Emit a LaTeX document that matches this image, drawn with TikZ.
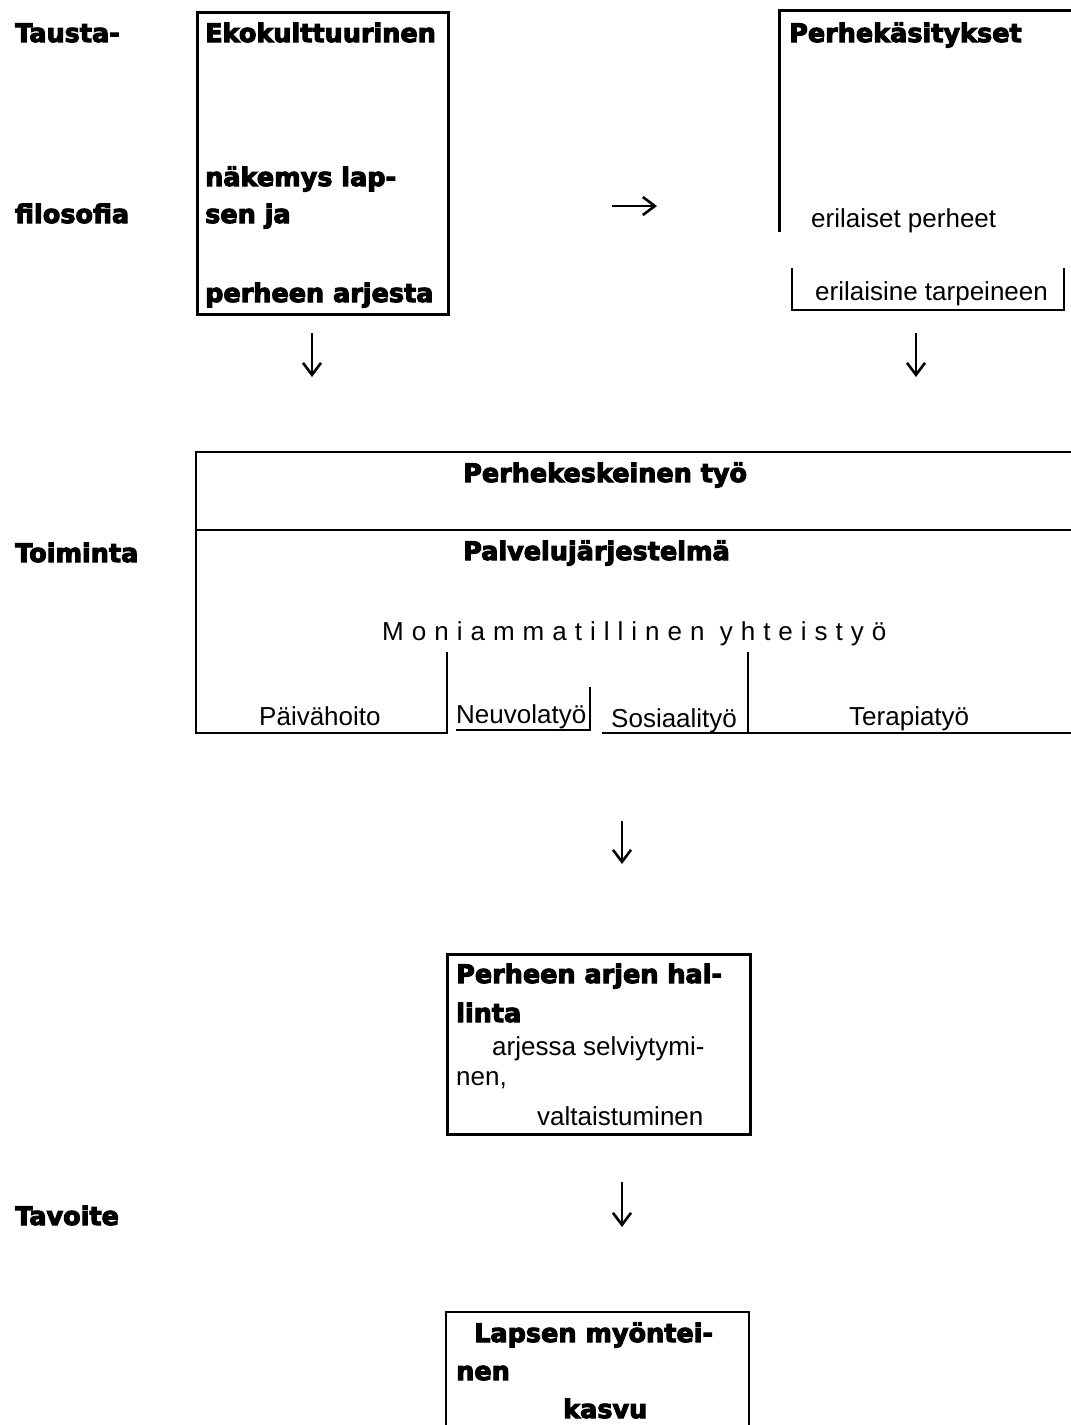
\documentclass[tikz,border=0pt]{standalone}
\usepackage{fontspec}
\setmainfont{Liberation Sans}
\newfontfamily\heavy[FakeBold=4]{DejaVu Sans Bold}
\newfontfamily\spaced[LetterSpace=30.8]{Liberation Sans}
\usetikzlibrary{arrows.meta}
\tikzset{
  hv/.style={font=\heavy\fontsize{25.5}{30}\selectfont, anchor=base west, inner sep=0pt},
  rg/.style={font=\fontsize{26}{30}\selectfont, anchor=base west, inner sep=0pt},
  sp/.style={font=\spaced\fontsize{26}{30}\selectfont, anchor=base west, inner sep=0pt},
  thickline/.style={line width=2.8pt},
  thinline/.style={line width=1.6pt},
  arr/.style={line width=2.6pt, -{Straight Barb[length=12pt,width=18pt,line width=2.6pt]}},
  frame/.style={draw, line width=2.8pt, inner sep=0pt, anchor=north west}
}
\begin{document}
\begin{tikzpicture}[x=1pt,y=-1pt]
\useasboundingbox (0,0) rectangle (1071,1425);

% ---- left labels
\node[hv] (tausta) at (15,42) {Tausta-};
\node[hv] (filo) at (15,223) {filosofia};
\node[hv] (toim) at (15,562) {Toiminta};
\node[hv] (tavo) at (15,1225) {Tavoite};

% ---- Ekokulttuurinen box
\node[frame, minimum width=251pt, minimum height=302pt] (eko) at (196,11) {};
\node[hv] (eko1) at (205,42) {Ekokulttuurinen};
\node[hv] (eko2) at (205,186) {näkemys lap-};
\node[hv] (eko3) at (205,223) {sen ja};
\node[hv] (eko4) at (205,302) {perheen arjesta};

% ---- Perhekasitykset (open shape)
\draw[line width=3pt] (779,232) -- (779,10) -- (1073,10);
\node[hv] (per1) at (789,42) {Perhekäsitykset};
\node[rg] (per2) at (811,227) {erilaiset perheet};
\draw[thickline] (792,268) -- (792,310) -- (1064,310) -- (1064,268);
\node[rg] (per3) at (815,300) {erilaisine tarpeineen};

% ---- arrows top
\coordinate (r1a) at (612,206); \coordinate (r1b) at (657,206);
\draw[arr] (r1a) -- (r1b);
\coordinate (d1a) at (312,333); \coordinate (d1b) at (312,377);
\draw[arr] (d1a) -- (d1b);
\coordinate (d2a) at (916,333); \coordinate (d2b) at (916,377);
\draw[arr] (d2a) -- (d2b);

% ---- middle box
\draw[thickline] (1073,452) -- (196,452) -- (196,733) -- (447,733);
\draw[thickline] (196,530) -- (1073,530);
\node[hv] (pk) at (463,482) {Perhekeskeinen työ};
\node[hv] (pj) at (463,560) {Palvelujärjestelmä};
\node[sp] (mo) at (382,640) {Moniammatillinen yhteistyö};
\draw[thinline] (447,652) -- (447,734);
\draw[thinline] (748,652) -- (748,733);
\draw[thickline] (456,730) -- (590,730);
\draw[thinline] (590,687) -- (590,731);
\draw[thickline] (602,733) -- (1073,733);
\node[rg] (ph) at (259,725) {Päivähoito};
\node[rg] (nv) at (456,723) {Neuvolatyö};
\node[rg] (so) at (611,727) {Sosiaalityö};
\node[rg] (te) at (849,725) {Terapiatyö};

% ---- arrow middle
\coordinate (d3a) at (622,821); \coordinate (d3b) at (622,864);
\draw[arr] (d3a) -- (d3b);

% ---- Perheen arjen hallinta box
\node[frame, minimum width=303pt, minimum height=180pt] (arki) at (446,953) {};
\node[hv] (ar1) at (456,983) {Perheen arjen hal-};
\node[hv] (ar2) at (456,1022) {linta};
\node[rg] (ar3) at (492,1055) {arjessa selviytymi-};
\node[rg] (ar4) at (456,1085) {nen,};
\node[rg] (ar5) at (537,1125) {valtaistuminen};

% ---- arrow lower
\coordinate (d4a) at (622,1182); \coordinate (d4b) at (622,1227);
\draw[arr] (d4a) -- (d4b);

% ---- Lapsen myonteinen kasvu box (open at bottom)
\draw[thickline] (446,1427) -- (446,1312) -- (749,1312) -- (749,1427);
\node[hv] (la1) at (474,1342) {Lapsen myöntei-};
\node[hv] (la2) at (456,1380) {nen};
\node[hv] (la3) at (563,1418) {kasvu};
\end{tikzpicture}
\end{document}
